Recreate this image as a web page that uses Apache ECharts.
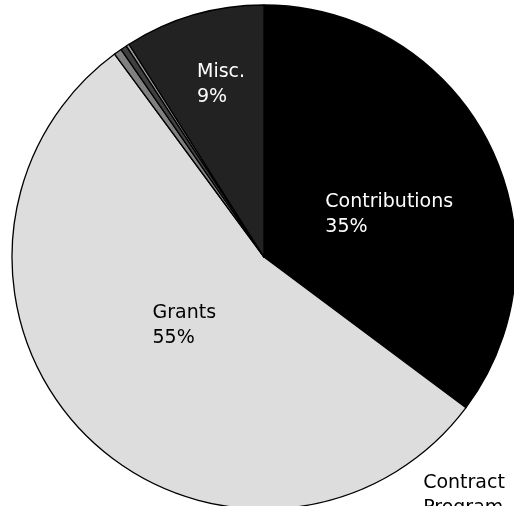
<!DOCTYPE html>
<html>
<head>
<meta charset="utf-8">
<script src="https://cdn.jsdelivr.net/npm/echarts@6/dist/echarts.min.js"></script>
<style>
html,body{margin:0;padding:0;background:#fff;}
#chart{width:514px;height:506px;}
</style>
</head>
<body>
<div id="chart"></div>
<script>
// Data (percent shares), clockwise from 12 o'clock
const categories = ["Contributions", "Grants", "Contract Program", "Other", "Other (2)", "Misc."];
const values = [35.2, 54.7, 0.5, 0.4, 0.2, 9.0];
const percentLabels = ["35%", "55%", "", "", "", "9%"];
const labelShown = [true, true, true, false, false, true];
const showPercent = [true, true, false, false, false, true];

const colors = ["#000000", "#dddddd", "#808080", "#3f3f3f", "#9a9a9a", "#222222"];
const labelColors = ["#ffffff", "#000000", "#000000", "#000000", "#000000", "#ffffff"];
// label shifts relative to the default inside anchor
const labelShift = [[-54, -10], [-20, -47], [234, 319], [0, 0], [0, 0], [-31, -74]];

const chart = echarts.init(document.getElementById('chart'), null, {renderer: 'canvas'});

const data = categories.map((c, i) => ({
  name: c,
  value: values[i],
  itemStyle: {color: colors[i]},
  label: {
    show: labelShown[i],
    color: labelColors[i],
    formatter: showPercent[i] ? c + "\n" + percentLabels[i] : c.replace(" ", "\n")
  }
}));

chart.setOption({
  animation: false,
  series: [{
    type: 'pie',
    center: [264, 257],
    radius: 252,
    startAngle: 90,
    clockwise: true,
    avoidLabelOverlap: false,
    data: data,
    itemStyle: {borderColor: '#000000', borderWidth: 1.3},
    label: {
      position: 'inside',
      fontFamily: 'DejaVu Sans',
      fontSize: 19,
      lineHeight: 25
    },
    labelLine: {show: false},
    labelLayout: function (params) {
      const s = labelShift[params.dataIndex];
      return {align: 'left', verticalAlign: 'top', dx: s[0], dy: s[1]};
    },
    emphasis: {disabled: true}
  }]
});
</script>
</body>
</html>
